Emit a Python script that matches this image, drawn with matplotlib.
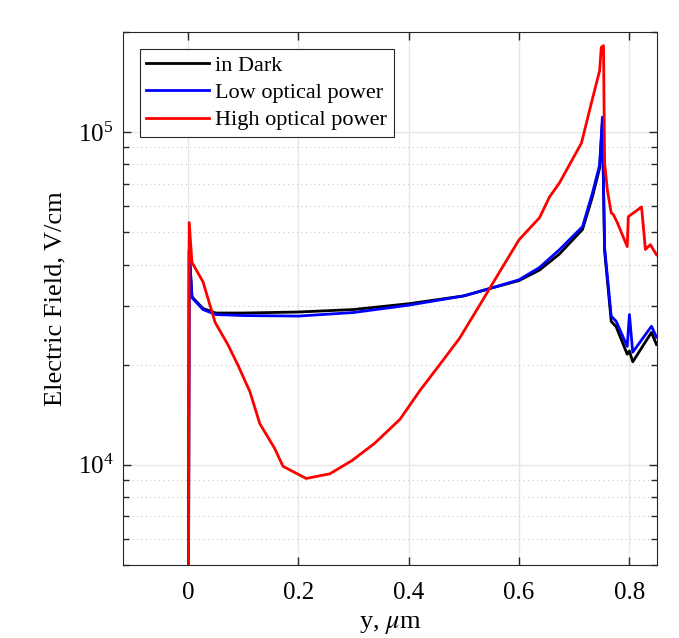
import numpy as np
from matplotlib import pyplot as plt
from matplotlib.ticker import LogLocator, NullFormatter

plt.rcParams['font.family'] = ['Liberation Serif', 'DejaVu Serif']
plt.rcParams['mathtext.fontset'] = 'stix'

# position y (um) and electric field (V/cm)
x_dark = [0.0, 0.002, 0.007, 0.027, 0.05, 0.1, 0.2, 0.3, 0.4, 0.5, 0.55, 0.6, 0.637,
          0.673, 0.715, 0.733, 0.746, 0.751, 0.755, 0.767, 0.776, 0.796, 0.8, 0.806,
          0.84, 0.849]
e_dark = [1.0e3, 4.4e4, 3.2e4, 2.95e4, 2.86e4, 2.86e4, 2.88e4, 2.93e4, 3.05e4, 3.22e4,
          3.4e4, 3.58e4, 3.85e4, 4.3e4, 5.1e4, 6.4e4, 7.8e4, 1.07e5, 4.4e4, 2.7e4,
          2.6e4, 2.15e4, 2.2e4, 2.04e4, 2.5e4, 2.3e4]

x_low = [0.0, 0.002, 0.007, 0.027, 0.05, 0.1, 0.2, 0.3, 0.4, 0.5, 0.55, 0.6, 0.637,
         0.673, 0.715, 0.733, 0.746, 0.751, 0.755, 0.767, 0.776, 0.796, 0.8, 0.806,
         0.84, 0.849]
e_low = [1.0e3, 4.45e4, 3.18e4, 2.93e4, 2.83e4, 2.81e4, 2.8e4, 2.87e4, 3.02e4, 3.22e4,
         3.4e4, 3.6e4, 3.92e4, 4.43e4, 5.2e4, 6.56e4, 7.97e4, 1.11e5, 4.5e4, 2.8e4,
         2.7e4, 2.27e4, 2.83e4, 2.18e4, 2.61e4, 2.42e4]

x_high = [0.0, 0.002, 0.007, 0.027, 0.049, 0.072, 0.09, 0.112, 0.13, 0.157, 0.172,
          0.214, 0.257, 0.297, 0.338, 0.384, 0.42, 0.456, 0.492, 0.528, 0.565, 0.6,
          0.637, 0.655, 0.673, 0.713, 0.733, 0.746, 0.749, 0.753, 0.755, 0.76, 0.767,
          0.771, 0.778, 0.796, 0.798, 0.822, 0.829, 0.838, 0.849]
e_high = [1.0e3, 5.35e4, 4.06e4, 3.55e4, 2.68e4, 2.3e4, 2.0e4, 1.66e4, 1.33e4, 1.12e4,
          9.9e3, 9.1e3, 9.4e3, 1.03e4, 1.16e4, 1.37e4, 1.67e4, 2.0e4, 2.4e4, 3.01e4,
          3.81e4, 4.75e4, 5.53e4, 6.38e4, 7.03e4, 9.27e4, 1.26e5, 1.53e5, 1.8e5, 1.82e5,
          8.1e4, 6.7e4, 5.72e4, 5.65e4, 5.35e4, 4.53e4, 5.57e4, 5.96e4, 4.44e4, 4.59e4,
          4.28e4]

fig = plt.figure(figsize=(6.79, 6.38), dpi=100)
ax = fig.add_axes([123 / 679, 1 - 565 / 638, 534 / 679, 533 / 638])

ax.plot(x_dark, e_dark, color='black', lw=2, label='in Dark')
ax.plot(x_low, e_low, color='#0000ff', lw=2, label='Low optical power')
ax.plot(x_high, e_high, color='#ff0000', lw=2, label='High optical power')

ax.set_yscale('log')
ax.set_xlim(-0.118, 0.85)
ax.set_ylim(5e3, 2e5)
ax.set_xticks([0, 0.2, 0.4, 0.6, 0.8])
ax.set_xticklabels(['0', '0.2', '0.4', '0.6', '0.8'])
ax.yaxis.set_major_locator(LogLocator(base=10, numticks=10))
ax.yaxis.set_minor_locator(LogLocator(base=10, subs=np.arange(2, 10), numticks=10))
ax.yaxis.set_minor_formatter(NullFormatter())

ax.grid(True, which='major', color='#e6e6e6', lw=1, ls='-')
ax.grid(True, which='minor', axis='y', color='#c8c8c8', lw=0.8, ls=(0, (1, 3)))
ax.set_axisbelow(True)

ax.tick_params(which='both', direction='in', top=True, right=True, labelsize=18,
               color='#262626', width=1)
ax.tick_params(axis='x', pad=12.5)
ax.tick_params(axis='y', pad=7)
ax.tick_params(which='major', length=6)
ax.tick_params(which='minor', length=4)
for s in ax.spines.values():
    s.set_color('#262626')
    s.set_linewidth(0.8)

ax.set_xlabel(r'y, $\mu$m', fontsize=19, labelpad=7)
ax.set_ylabel('Electric Field, V/cm', fontsize=19, labelpad=8)

leg = ax.legend(loc='upper left', fontsize=16, fancybox=False, edgecolor='#262626',
                framealpha=1, handlelength=2.8, handletextpad=0.3,
                borderaxespad=0.75, labelspacing=0.3, borderpad=0.3)
leg.get_frame().set_linewidth(0.8)

fig.savefig('out.png', dpi=100)
